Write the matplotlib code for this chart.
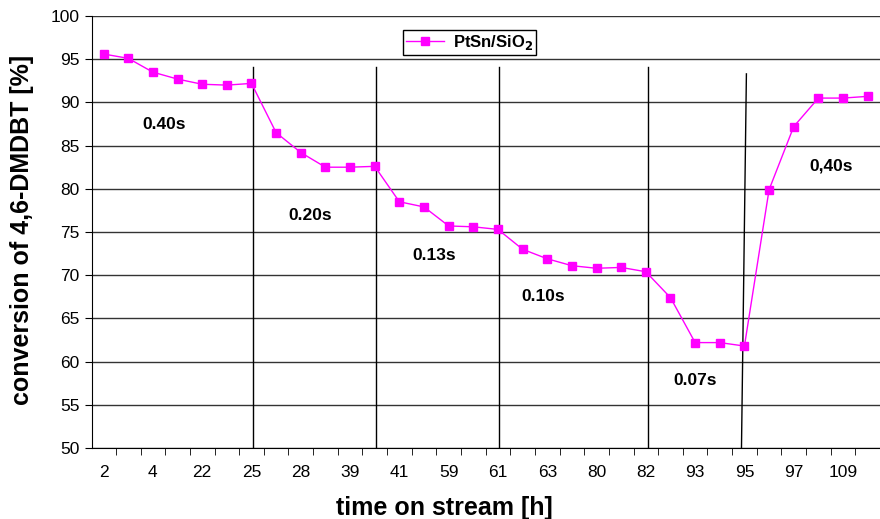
import matplotlib
matplotlib.use('Agg')
import matplotlib.pyplot as plt

plt.rcParams['font.family'] = ['Liberation Sans', 'DejaVu Sans']

conversion = [95.6, 95.1, 93.5, 92.7, 92.1, 92.0, 92.2,
              86.5, 84.2, 82.5, 82.5, 82.6,
              78.5, 77.9, 75.7, 75.6, 75.3,
              73.0, 71.9, 71.1, 70.8, 70.9, 70.4,
              67.4, 62.2, 62.2, 61.8,
              79.9, 87.2, 90.5, 90.5, 90.7]
tick_labels = ['2', '4', '22', '25', '28', '39', '41', '59',
               '61', '63', '80', '82', '93', '95', '97', '109']
residence = ['0.40s', '0.20s', '0.13s', '0.10s', '0.07s', '0,40s']
label_pos = [(2.47, 87.4), (8.4, 76.9), (13.4, 72.3), (17.85, 67.5), (24.0, 57.8), (29.5, 82.6)]
separators = [((6.07, 6.07), (94.1, 50)), ((11.06, 11.06), (94.1, 50)),
              ((16.03, 16.03), (94.1, 50)), ((22.07, 22.07), (94.1, 50)),
              ((26.08, 25.88), (93.3, 50))]

fig = plt.figure(figsize=(8.8, 5.19), dpi=100)
ax = fig.add_axes([92 / 880, 1 - 448 / 519, 788 / 880, 432 / 519])

x = list(range(len(conversion)))
ax.plot(x, conversion, color='#ff00ff', lw=1, marker='s', markersize=6,
        label='PtSn/SiO$_\\mathbf{2}$', zorder=4)

ax.set_ylim(50, 100)
ax.set_yticks(range(50, 101, 5))
ax.set_xlim(-0.47, 31.26)
ax.set_xticks(range(0, 32, 2))
ax.set_xticklabels(tick_labels)
ax.set_xticks([i - 0.5 for i in range(1, 33)], minor=True)
ax.tick_params(axis='x', which='major', length=0, pad=12, labelsize=12.5)
ax.tick_params(axis='x', which='minor', length=5, direction='out', color='black')
ax.tick_params(axis='y', length=5, direction='out', labelsize=12.5, pad=4)

ax.grid(axis='y', color='#333333', lw=1)
ax.set_axisbelow(True)
for s in ['right', 'top']:
    ax.spines[s].set_visible(False)

for (xs, ys) in separators:
    ax.plot(xs, ys, color='black', lw=1, zorder=3)

for txt, (tx, ty) in zip(residence, label_pos):
    ax.text(tx, ty, txt, ha='center', va='center', fontsize=12.5, fontweight='bold')

ax.set_ylabel('conversion of 4,6-DMDBT [%]', fontsize=18, fontweight='bold')
ax.yaxis.set_label_coords(-0.074, 0.505)
ax.set_xlabel('time on stream [h]', fontsize=18, fontweight='bold')
ax.xaxis.set_label_coords(0.447, -0.11)

leg = ax.legend(loc='center', bbox_to_anchor=(0.479, 0.939), fancybox=False,
                edgecolor='black', framealpha=1, prop={'weight': 'bold', 'size': 12},
                handlelength=2.3, handletextpad=0.5, borderpad=0.2, borderaxespad=0)
leg.get_frame().set_linewidth(1)

fig.savefig('out.png', dpi=100)
